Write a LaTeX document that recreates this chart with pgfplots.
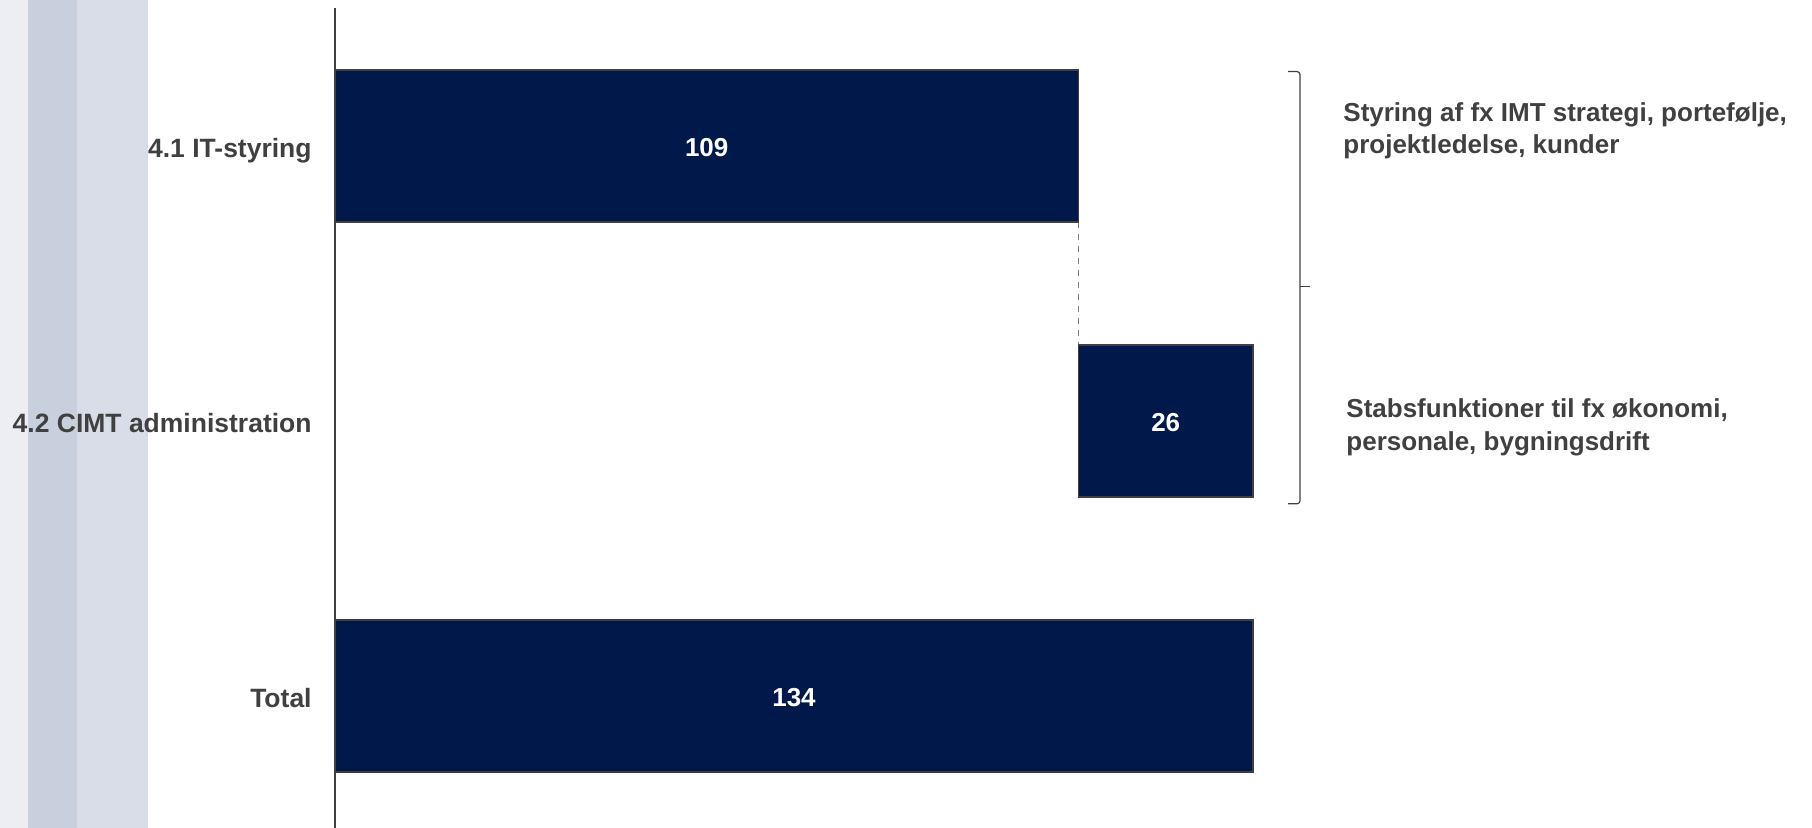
\documentclass[border=0pt]{standalone}
\usepackage{fontspec}
\setmainfont{Liberation Sans}
\usepackage{pgfplots}
\pgfplotsset{compat=1.18}
\usepackage{pgfplotstable}
\definecolor{navy}{HTML}{00184A}
\definecolor{dgray}{HTML}{404040}
\definecolor{stripA}{HTML}{ECEEF3}
\definecolor{stripB}{HTML}{C8CFDD}
\definecolor{stripC}{HTML}{D9DDE7}

\pgfplotstableread{
y base val
0 0 108.6
1 108.6 25.5
2 0 134.1
}\data

\begin{document}
\begin{tikzpicture}[x=1pt,y=1pt]
\useasboundingbox (0,0) rectangle (906,414);
\fill[stripA] (0,0) rectangle (13.9,414);
\fill[stripB] (13.9,0) rectangle (38.7,414);
\fill[stripC] (38.7,0) rectangle (74,414);
\begin{axis}[at={(167.5pt,0pt)}, anchor=south west, scale only axis,
  width=459pt, height=409.75pt, xmin=0, xmax=134.1, ymin=-0.5, ymax=2.48,
  y dir=reverse, xbar stacked, bar width=76pt,
  axis x line=none, axis y line=left,
  axis line style={-, dgray, line width=0.7pt},
  ytick={0,1,2}, yticklabels={4.1 IT-styring, 4.2 CIMT administration, Total},
  major tick length=0pt,
  yticklabel style={font=\fontsize{13.25}{15}\selectfont\bfseries, text=dgray, inner sep=0pt, anchor=base east, yshift=-5.6pt, xshift=-11.5pt},
  clip=false]
\addplot[draw=none, fill=none] table[x=base, y=y]{\data};
\addplot[fill=navy, draw=dgray, line width=0.6pt] table[x=val, y=y]{\data};
\draw[gray, dashed, line width=0.5pt] (axis cs:108.6,0.276) -- (axis cs:108.6,0.724);
\coordinate (l1) at (axis cs:54.3,0);
\coordinate (l2) at (axis cs:121.35,1);
\coordinate (l3) at (axis cs:67.05,2);
\end{axis}
\node[text=white, font=\fontsize{13}{15}\selectfont\bfseries, yshift=-0.9pt] at (l1) {109};
\node[text=white, font=\fontsize{13}{15}\selectfont\bfseries, yshift=-0.9pt] at (l2) {26};
\node[text=white, font=\fontsize{13}{15}\selectfont\bfseries, yshift=-0.9pt] at (l3) {134};
\draw[dgray, line width=0.6pt, rounded corners=1.5pt] (644,378.2) -- (650,378.2) -- (650,162.1) -- (644,162.1);
\draw[dgray, line width=0.6pt] (650,270.7) -- (655,270.7);
\node[anchor=west, align=left, font=\fontsize{13}{16.2}\selectfont\bfseries, text=dgray, inner sep=0pt] at (671.5,348.6) {Styring af fx IMT strategi, portefølje,\\projektledelse, kunder};
\node[anchor=west, align=left, font=\fontsize{13}{16.2}\selectfont\bfseries, text=dgray, inner sep=0pt] at (673,200.3) {Stabsfunktioner til fx økonomi,\\personale, bygningsdrift};
\end{tikzpicture}
\end{document}
